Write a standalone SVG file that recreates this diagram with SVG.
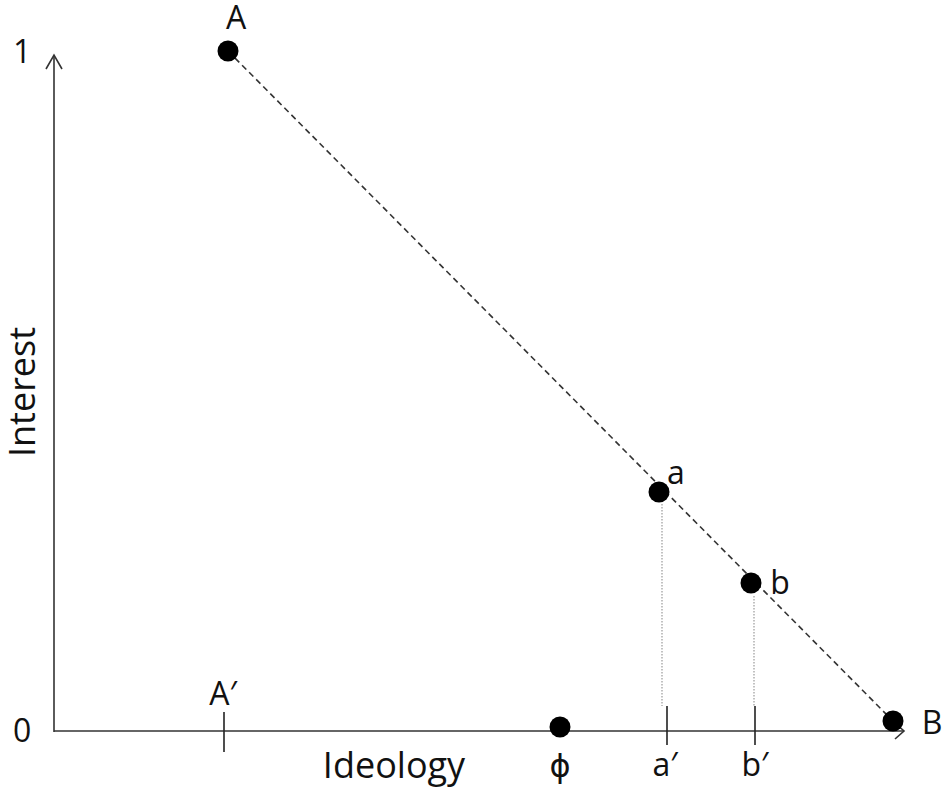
<svg xmlns="http://www.w3.org/2000/svg" width="944" height="788" viewBox="0 0 944 788">
<style>
text{font-family:"Open Sans","DejaVu Sans",sans-serif;fill:#111}
.lbl{font-size:32px}
.ttl{font-size:36px}
.axis{stroke:#333;stroke-width:1.6;fill:none}
.dash{stroke:#333;stroke-width:1.6;stroke-dasharray:6 4;fill:none}
.dot{stroke:#999;stroke-width:1.2;stroke-dasharray:1.5 1.5;fill:none}
.tick{stroke:#222;stroke-width:1.6}
.pt{fill:#000}
</style>
<rect width="944" height="788" fill="#fff"/>
<g id="axes">
<line class="axis" x1="54" y1="56" x2="54" y2="732"/>
<polyline class="axis" points="46,69 54,55 62,69"/>
<line class="axis" x1="54" y1="731" x2="904" y2="731"/>
<polyline class="axis" points="895,723 904,731 895,739"/>
<text class="lbl" x="13" y="63">1</text>
<text class="lbl" x="13" y="742">0</text>
<text class="ttl" transform="translate(35,392) rotate(-90)" text-anchor="middle">Interest</text>
<text class="ttl" x="394" y="778" text-anchor="middle">Ideology</text>
</g>
<g id="connectors">
<line class="dash" x1="228" y1="51" x2="893" y2="721"/>
<line class="dot" x1="662" y1="504" x2="662" y2="706"/>
<line class="dot" x1="754" y1="596" x2="754" y2="706"/>
</g>
<g id="node-A"><circle class="pt" cx="228" cy="51" r="10.5"/><text class="lbl" x="236" y="29" text-anchor="middle">A</text></g>
<g id="node-a"><circle class="pt" cx="659" cy="492" r="10.5"/><text class="lbl" x="676" y="484" text-anchor="middle">a</text></g>
<g id="node-b"><circle class="pt" cx="751" cy="583" r="10.5"/><text class="lbl" x="780" y="594" text-anchor="middle">b</text></g>
<g id="node-B"><circle class="pt" cx="893" cy="721" r="10.5"/><text class="lbl" x="932" y="734" text-anchor="middle">B</text></g>
<g id="node-phi"><circle class="pt" cx="560" cy="727" r="10.5"/><text class="lbl" x="560" y="777" text-anchor="middle">ϕ</text></g>
<g id="node-Aprime"><line class="tick" x1="224" y1="712" x2="224" y2="752"/><text class="lbl" x="223" y="705" text-anchor="middle">A′</text></g>
<g id="node-aprime"><line class="tick" x1="667" y1="706" x2="667" y2="745"/><text class="lbl" x="665" y="776" text-anchor="middle">a′</text></g>
<g id="node-bprime"><line class="tick" x1="755" y1="706" x2="755" y2="745"/><text class="lbl" x="755" y="776" text-anchor="middle">b′</text></g>
</svg>
